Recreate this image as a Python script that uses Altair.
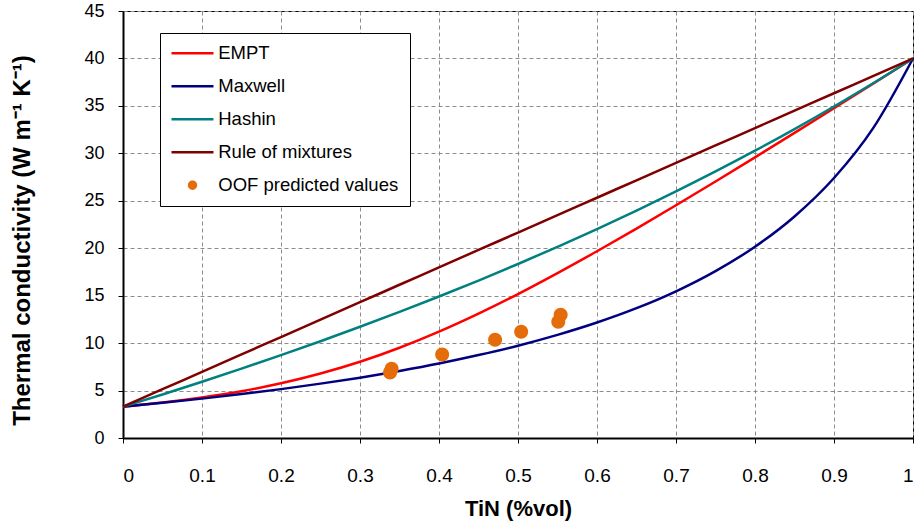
import altair as alt
import pandas as pd

# ---- data ----
vol_frac = [0.0, 0.05, 0.1, 0.15, 0.2, 0.25, 0.3, 0.35, 0.4, 0.45, 0.5,
            0.55, 0.6, 0.65, 0.7, 0.75, 0.8, 0.85, 0.9, 0.95, 1.0]
empt = [3.30, 3.73, 4.27, 4.93, 5.76, 6.79, 8.03, 9.51, 11.21, 13.11, 15.17,
        17.38, 19.68, 22.07, 24.53, 27.03, 29.57, 32.15, 34.75, 37.36, 40.00]
maxwell = [3.30, 3.71, 4.15, 4.63, 5.15, 5.73, 6.36, 7.07, 7.85, 8.74, 9.73,
           10.87, 12.17, 13.68, 15.46, 17.59, 20.16, 23.35, 27.40, 32.71, 40.00]
hashin = [3.30, 4.59, 5.93, 7.31, 8.73, 10.20, 11.72, 13.29, 14.91, 16.59, 18.34,
          20.15, 22.02, 23.97, 25.99, 28.09, 30.28, 32.56, 34.94, 37.41, 40.00]
rule_mix = [3.30, 5.14, 6.97, 8.81, 10.64, 12.48, 14.31, 16.15, 17.98, 19.82, 21.65,
            23.49, 25.32, 27.16, 28.99, 30.83, 32.66, 34.50, 36.33, 38.17, 40.00]

oof_x = [0.338, 0.340, 0.404, 0.471, 0.504, 0.551, 0.554]
oof_y = [6.9, 7.3, 8.8, 10.35, 11.2, 12.25, 13.0]

line_names = ["EMPT", "Maxwell", "Hashin", "Rule of mixtures"]
point_name = "OOF predicted values"
all_names = line_names + [point_name]
line_colors = ["#FF0000", "#000080", "#008080", "#800000"]
point_color = "#E46C0A"

x_ticks = [0, 0.1, 0.2, 0.3, 0.4, 0.5, 0.6, 0.7, 0.8, 0.9, 1]
y_ticks = [0, 5, 10, 15, 20, 25, 30, 35, 40, 45]

# ---- tables ----
rows = []
for name, vals in zip(line_names, [empt, maxwell, hashin, rule_mix]):
    for xv, yv in zip(vol_frac, vals):
        rows.append({"frac": xv, "k": yv, "series": name})
lines_df = pd.DataFrame(rows)
oof_df = pd.DataFrame({"frac": oof_x, "k": oof_y, "series": point_name})

FONT = "Liberation Sans"
# symbol unit = 5 px in the legend (symbolSize 100)
line_path = "M-4.2,-0.23H4.2V0.23H-4.2Z"
dot_path = "M-0.93,0A0.93,0.93,0,1,1,0.93,0A0.93,0.93,0,1,1,-0.93,0Z"
shapes = [line_path] * 4 + [dot_path]

x_enc = alt.X("frac:Q", scale=alt.Scale(domain=[0, 1], nice=False, zero=False),
              axis=alt.Axis(values=x_ticks, format="~g", title="TiN (%vol)",
                            titleX=395, titleY=70, titleAlign="center",
                            titleBaseline="middle", titleFontSize=22,
                            labelPadding=23, labelFontSize=19))
y_enc = alt.Y("k:Q", scale=alt.Scale(domain=[0, 45], nice=False),
              axis=alt.Axis(values=y_ticks, title="Thermal conductivity (W m⁻¹ K⁻¹)",
                            titleX=-101, titleY=229, titleAngle=270,
                            titleAlign="center", titleBaseline="middle",
                            titleFontSize=24, labelPadding=14, labelFontSize=18))

legend = alt.Legend(title=None, orient="none", legendX=37, legendY=22,
                    direction="vertical", fillColor="white", strokeColor="black",
                    padding=11, symbolSize=100, symbolOffset=12.25,
                    symbolStrokeWidth=0, symbolOpacity=1, labelFont=FONT,
                    labelFontSize=18.5, labelColor="black", labelOffset=16.5,
                    rowPadding=14, labelLimit=400)

lines = alt.Chart(lines_df).mark_line(strokeWidth=2.5, interpolate="monotone").encode(
    x=x_enc, y=y_enc,
    stroke=alt.Stroke("series:N", scale=alt.Scale(domain=line_names, range=line_colors),
                      legend=None),
)

points = alt.Chart(oof_df).mark_point(filled=True, opacity=1, size=225).encode(
    x=x_enc, y=y_enc,
    color=alt.Color("series:N",
                    scale=alt.Scale(domain=all_names, range=line_colors + [point_color]),
                    legend=legend),
    shape=alt.Shape("series:N", scale=alt.Scale(domain=all_names, range=shapes),
                    legend=legend),
)

chart = alt.layer(lines, points).properties(
    width=790, height=427,
    autosize=alt.AutoSizeParams(type="none"),
    padding={"left": 123, "top": 11, "right": 4, "bottom": 88},
    background="white",
).configure_view(
    stroke="black", strokeWidth=1
).configure_legend(
    strokeWidth=1, cornerRadius=0
).configure_axis(
    domainColor="black", domainWidth=2, tickColor="black", tickSize=5, tickWidth=1,
    gridColor="#8c8c8c", gridDash=[4, 3], gridWidth=1,
    labelFont=FONT, labelColor="black",
    titleFont=FONT, titleFontWeight="bold", titleColor="black",
)

chart.save("out.html", embed_options={"renderer": "svg", "actions": False})
